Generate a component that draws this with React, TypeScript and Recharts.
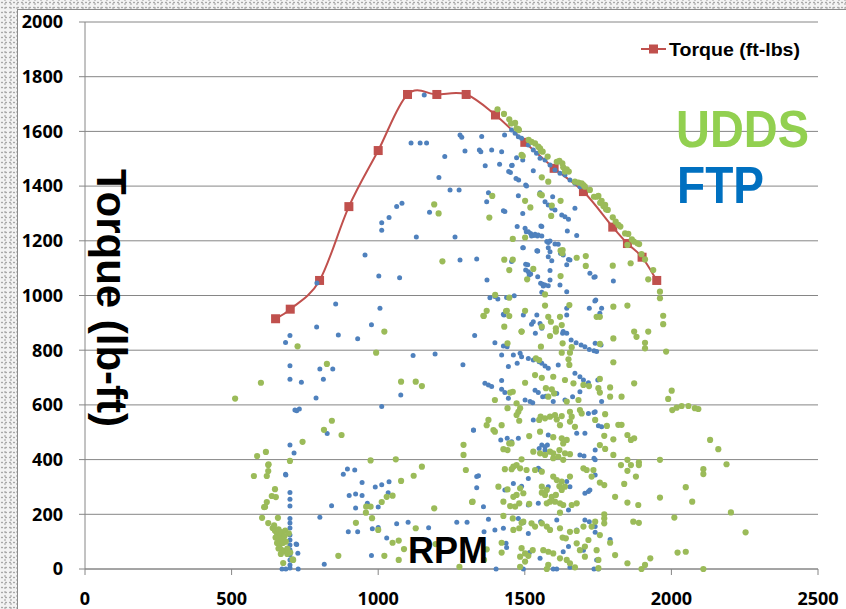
import React from "react";
import { ComposedChart, Line, Scatter, XAxis, YAxis, CartesianGrid } from "recharts";

// torque curve (red line with squares)
const torqueRpm = [650, 700, 800, 900, 1000, 1100, 1200, 1300, 1400, 1500, 1600, 1700, 1800, 1850, 1900, 1950];
const torqueFtLbs = [915, 950, 1055, 1325, 1530, 1735, 1735, 1735, 1660, 1560, 1465, 1380, 1250, 1190, 1140, 1055];

const xTicks = [0, 500, 1000, 1500, 2000, 2500];
const yTicks = [0, 200, 400, 600, 800, 1000, 1200, 1400, 1600, 1800, 2000];

// FTP cycle operating points [rpm, torque]
const ftpPoints: [number, number][] = [
  [716,581],[699,453],[713,424],[685,344],[699,280],[699,255],[699,230],[699,185],[699,168],[699,150],[699,124],[699,106],[699,88],[699,70],[699,51],[699,33],[699,15],[699,4],[720,91],[726,58],[672,0],[685,0],[727,0],[722,90],[816,17],
  [855,969],[1006,953],[790,885],[699,854],[684,828],[864,856],[930,842],[977,893],[1329,854],[1119,781],[1194,786],[1289,747],[699,743],[801,731],[845,731],[699,694],[738,683],[813,694],[788,625],[1077,636],[1012,594],[722,579],[731,585],[1325,507],[826,495],[684,346],[881,346],[895,366],[920,362],[945,316],[990,300],[1012,308],[1037,319],[901,269],[923,274],[945,269],[963,240],[1034,279],[1000,227],[923,223],[841,231],[801,189],[898,136],[930,136],[980,147],[1000,152],[1029,113],[1063,165],[1102,171],[1172,151],[1268,171],[1303,171],[977,49],[1336,338],[1336,297],
  [1157,1733],[1112,1558],[1143,1558],[1165,1558],[1227,1508],[1207,1431],[1245,1386],[1276,1386],[1081,1337],[1063,1325],[1037,1285],[1012,1266],[1012,1239],[1175,1304],[1130,1214],[1262,1214],[955,1148],[1279,1130],[1336,1133],[1002,1071],[1073,1065],[791,1046],
  [1345,1532],[1350,1526],[1365,1474],[1421,1526],[1414,1480],[1457,1476],[1431,1587],[1445,1453],[1451,1450],[1472,1504],[1493,1495],[1470,1428],[1479,1422],[1503,1404],[1478,1365],[1370,1343],[1427,1310],[1493,1300],[1474,1252],[1505,1233],[1520,1227],[1531,1219],[1493,1175],[1503,1114],[1503,1093],[1520,1079],[1515,1075],[1543,1163],[1371,1057],[1381,992],[1408,987],[1464,999],[1429,929],
  [1455,1605],[1467,1593],[1478,1580],[1489,1575],[1512,1550],[1529,1532],[1540,1520],[1552,1502],[1569,1495],[1586,1477],[1603,1459],[1620,1447],[1637,1441],[1654,1422],[1671,1410],[1688,1398],[1296,1528],[1279,1587],[1285,1579],[1353,1581],[1387,1532],[1455,1475],[1529,1456],[1506,1400],[1552,1376],[1569,1343],[1580,1331],[1592,1319],[1603,1313],[1595,1361],[1626,1294],[1637,1288],[1649,1279],[1671,1319],[1432,1307],[1376,1376],[1501,1246],[1523,1218],[1543,1218],[1558,1218],[1558,1252],[1580,1194],[1603,1188],[1614,1187],[1645,1236],[1677,1219],[1544,1163],[1580,1142],[1586,1160],[1622,1154],[1631,1148],[1649,1132],[1643,1112],[1455,1124],[1510,1112],[1586,1091],[1586,1057],[1620,1038],[1722,1081],[1736,1067],[1802,1053],[1643,1014],[1554,1045],[1563,1035],[1398,996],[1558,1012],[1742,984],
  [1512,1233],[1535,1224],[1546,1221],[1555,1254],[1575,1197],[1586,1199],[1495,1175],[1541,1164],[1580,1175],[1592,1127],[1654,1130],[1512,1087],[1544,1069],[1561,1041],[1569,1038],[1580,1036],[1438,993],[1739,980],[1720,953],[1427,931],[1495,929],[1523,895],[1529,904],[1541,929],[1552,898],[1558,880],[1631,868],[1643,953],[1643,929],
  [1536,862],[1629,862],[1643,862],[1398,827],[1427,815],[1440,813],[1421,782],[1461,782],[1484,789],[1489,776],[1474,752],[1444,740],[1512,770],[1529,764],[1549,758],[1558,752],[1569,742],[1580,734],[1614,746],[1658,837],[1675,827],[1692,819],[1705,813],[1720,803],[1736,798],[1671,716],[1688,703],[1700,691],[1717,681],[1749,691],[1364,679],[1376,673],[1387,667],[1421,689],[1421,657],[1432,645],[1535,654],[1546,645],[1561,630],[1572,632],[1444,624],[1501,618],[1518,612],[1527,608],[1597,612],[1637,618],[1609,642],[1663,630],[1688,648],[1717,569],[1736,572],[1325,508],[1529,545],[1418,472],[1440,478],[1455,465],[1478,478],[1558,453],[1569,447],[1577,453],[1549,441],[1569,435],[1580,490],[1677,496],[1705,496],[1688,417],[1702,413],[1736,405],[1342,341],[1461,313],[1489,303],[1512,331],[1546,368],[1552,362],[1580,301],[1643,320],[1654,301],[1705,277],[1717,283],[1722,289],[1359,228],[1432,289],[1512,234],[1546,240],[1649,216],[1376,182],[1478,185],[1495,169],[1554,173],[1609,179],[1705,179],[1720,173],[1361,136],[1398,143],[1427,149],[1512,130],[1677,143],[1436,94],[1438,79],[1516,60],[1631,63],[1649,82],[1700,69],[1402,0],[1495,0],[1609,0],[1597,0],[1654,6],[1736,0],[1751,0],[1552,39],[1745,33],
  [1740,1069],[1762,953],[1756,935],[1745,922],[1740,825],[1760,819],[1745,795],[1762,612],[1740,575],[1740,545],[1751,524],[1762,520],[1740,435],[1740,399],[1740,344],[1740,155],[1740,134],[1791,108],
];

// UDDS cycle operating points [rpm, torque]
const uddsPoints: [number, number][] = [
  [512,623],[587,413],[617,428],[576,340],[625,380],[625,358],[620,340],[648,292],[637,267],[651,263],[620,245],[614,227],[604,187],[658,187],[625,168],[676,22],[710,33],[699,395],
  [640,150],[648,140],[655,130],[660,145],[665,120],[670,135],[650,115],[660,105],[672,110],[680,120],[655,95],[665,90],[675,95],[685,100],[660,75],[670,70],[680,65],[690,75],[668,55],[690,55],[700,60],[645,160],[683,140],[695,130],
  [1021,868],[725,814],[993,791],[600,681],[825,750],[1078,685],[1128,685],[1149,669],[842,542],[815,509],[875,490],[742,465],[626,383],[974,397],[1060,401],[1149,374],[1121,341],[1078,322],[1291,454],[1291,417],[1299,362],[1320,245],[611,226],[708,35],[864,48],[924,169],[959,228],[974,228],[958,206],[979,186],[1000,143],[1012,245],[1029,264],[1049,268],[1191,222],[1128,149],[1049,96],[1070,104],[1088,73],[1021,48],[1070,33],[1196,91],[1277,8],
  [1407,1681],[1429,1664],[1447,1644],[1467,1631],[1478,1608],[1489,1514],[1389,1364],[1191,1333],[1206,1300],[1379,1285],[1501,1346],[1519,1322],[1459,1207],[1501,1212],[1219,1125],[1430,1131],[1459,1131],[1447,1093],[1529,1097],[1508,1059],[1399,1002],[1447,992],[1370,944],[1360,925],[1439,944],[1447,925],[1501,944],
  [1453,1629],[1472,1611],[1480,1605],[1513,1569],[1523,1562],[1535,1556],[1546,1544],[1552,1538],[1555,1528],[1561,1526],[1578,1508],[1609,1489],[1618,1492],[1628,1483],[1631,1469],[1643,1461],[1650,1453],[1637,1453],[1558,1432],[1580,1416],[1671,1416],[1683,1413],[1694,1410],[1700,1404],[1705,1398],[1722,1386],[1736,1361],[1751,1364],[1757,1339],[1768,1327],[1777,1315],[1800,1286],[1810,1270],[1826,1252],[1842,1227],[1853,1225],[1865,1205],[1872,1197],[1884,1191],[1890,1188],[1910,1132],[1921,1059],[1961,1014],[1961,990],[1861,1118],[1800,1109],[1708,1144],[1708,1108],[1677,1138],[1622,1164],[1628,1154],[1590,1291],[1558,1367],[1493,1510],
  [1552,1370],[1592,1329],[1622,1346],[1629,1166],[1622,1071],[1569,1004],[1569,963],[1652,965],[1359,926],[1436,943],[1430,886],[1489,868],[1558,886],[1580,922],[1589,904],[1606,880],[1620,922],[1626,892],[1745,922],
  [1745,1361],[1762,1346],[1774,1331],[1783,1313],[1819,1258],[1850,1185],[1898,1151],[1938,1093],[1972,926],[1972,895],[1802,959],[1850,963],[1756,922],[1873,868],[1921,868],
  [1881,849],[1910,827],[1910,807],[1802,843],[1756,823],[1982,795],[1802,756],[1756,695],[1873,679],[1791,664],[1756,645],[1791,630],[1830,630],[2001,652],[1989,622],[2003,581],[2018,590],[2035,596],[2058,596],[2080,588],[2092,585],[1774,566],[1740,545],[1780,523],[1819,527],[1830,527],[1771,487],[1802,474],[1850,490],[1862,472],[1873,478],[1756,453],[1774,439],[1802,417],[2132,472],[2160,438],[1850,399],[1828,380],[1862,380],[1850,359],[1889,390],[1889,380],[1961,399],[1879,338],[1756,316],[1771,307],[1839,311],[2109,365],[2109,347],[2049,299],[1808,264],[1850,243],[1887,234],[1961,261],[2071,246],[1771,200],[1771,185],[1771,167],[1740,173],[1870,173],[1889,169],[2010,188],[1756,124],[1791,96],[1808,51],[2021,60],[2049,63],[1850,21],[1898,0],[1910,15],[1928,39],[1751,3],[2109,0],[2188,383],[2203,207],[2253,134],
  [1489,868],[1586,852],[1606,868],[1441,825],[1555,813],[1629,825],[1660,811],[1626,791],[1654,791],[1538,770],[1549,764],[1649,767],[1652,746],[1535,709],[1558,699],[1597,703],[1637,691],[1501,681],[1459,648],[1450,645],[1398,618],[1572,661],[1592,657],[1600,642],[1580,630],[1643,612],[1683,618],[1719,669],[1700,673],[1666,679],[1751,661],[1654,575],[1660,557],[1654,539],[1671,520],[1688,581],[1694,569],[1472,606],[1484,588],[1478,575],[1472,563],[1481,542],[1441,588],[1554,557],[1549,545],[1569,551],[1586,557],[1603,563],[1609,547],[1626,559],[1620,526],[1376,545],[1370,526],[1393,508],[1398,502],[1421,526],[1515,486],[1552,502],[1597,482],[1626,478],[1643,472],[1631,459],[1447,459],[1455,459],[1427,438],[1441,435],[1529,429],[1552,423],[1569,417],[1586,429],[1597,423],[1618,435],[1637,423],[1654,420],[1597,405],[1614,411],[1631,399],[1489,401],[1461,374],[1472,380],[1484,368],[1455,365],[1432,365],[1506,362],[1535,362],[1558,356],[1597,338],[1609,325],[1626,320],[1654,338],[1700,368],[1711,362],[1734,362],[1728,338],[1410,301],[1441,291],[1484,295],[1495,277],[1472,271],[1461,264],[1558,301],[1569,271],[1558,279],[1575,289],[1618,303],[1626,289],[1637,301],[1606,271],[1592,264],[1322,246],[1427,246],[1450,230],[1467,228],[1481,240],[1515,238],[1575,240],[1586,246],[1603,246],[1620,240],[1631,234],[1660,234],[1677,240],[1620,206],[1427,194],[1459,185],[1489,169],[1495,173],[1523,167],[1535,155],[1558,167],[1575,155],[1586,143],[1620,149],[1654,136],[1677,139],[1700,155],[1728,155],[1461,143],[1481,149],[1629,115],[1640,112],[1717,106],[1370,72],[1421,96],[1421,60],[1489,76],[1501,57],[1512,48],[1527,69],[1484,45],[1501,27],[1484,8],[1563,69],[1580,63],[1597,57],[1620,39],[1643,33],[1654,21],[1677,94],[1688,69],[1705,82],[1705,45],[1575,0],[1580,15],[1671,6],[1745,69],[1751,33],[1361,33],
];

const torqueData = torqueRpm.map((rpm, i) => ({ rpm, torque: torqueFtLbs[i] }));
const ftpData = ftpPoints.map(([rpm, torque]) => ({ rpm, torque }));
const uddsData = uddsPoints.map(([rpm, torque]) => ({ rpm, torque }));

// Excel-style smoothed line (cardinal / catmull-rom bezier)
function excelSmooth(context: any) {
  let pts: number[][] = [];
  return {
    areaStart() {},
    areaEnd() {},
    lineStart() {
      pts = [];
    },
    point(x: number, y: number) {
      pts.push([+x, +y]);
    },
    lineEnd() {
      if (!pts.length) return;
      context.moveTo(pts[0][0], pts[0][1]);
      for (let i = 0; i < pts.length - 1; i++) {
        const p0 = pts[i - 1] || pts[i];
        const p1 = pts[i];
        const p2 = pts[i + 1];
        const p3 = pts[i + 2] || p2;
        const k = 1 / 6;
        context.bezierCurveTo(
          p1[0] + (p2[0] - p0[0]) * k,
          p1[1] + (p2[1] - p0[1]) * k,
          p2[0] - (p3[0] - p1[0]) * k,
          p2[1] - (p3[1] - p1[1]) * k,
          p2[0],
          p2[1]
        );
      }
    },
  };
}

const RED = "#C0504D";
const tickStyle = { fill: "#000", fontSize: 18, fontWeight: 700, fontFamily: "Open Sans" };
const labelFont = "Liberation Sans, Arial, sans-serif";

export default function App() {
  return (
    <div
      style={{
        position: "absolute",
        left: 0,
        top: 0,
        width: 846,
        height: 609,
        overflow: "hidden",
        backgroundColor: "#f3f3f3",
        backgroundImage:
          "radial-gradient(circle, #a8a8a8 0.7px, transparent 1.2px), radial-gradient(circle, #c6c6c6 0.7px, transparent 1.2px)",
        backgroundSize: "4px 5px, 6px 4px",
        backgroundPosition: "0 0, 2px 2px",
      }}
    >
      <div
        style={{
          position: "absolute",
          left: 17,
          top: 9,
          width: 840,
          height: 610,
          background: "#fff",
          borderLeft: "1px solid #8c8c8c",
          borderTop: "1px solid #8c8c8c",
        }}
      />
      <div style={{ position: "absolute", left: 0, top: 0 }}>
        <ComposedChart width={846} height={609} margin={{ top: 22, right: 28, bottom: 0, left: 0 }}>
          <CartesianGrid vertical={false} stroke="#868686" strokeWidth={1} />
          <XAxis
            type="number"
            dataKey="rpm"
            domain={[0, 2500]}
            ticks={xTicks}
            interval={0}
            height={40}
            tickSize={6}
            tickMargin={17}
            stroke="#868686"
            tick={tickStyle}
          />
          <YAxis
            type="number"
            dataKey="torque"
            domain={[0, 2000]}
            ticks={yTicks}
            interval={0}
            width={85}
            tickSize={6}
            tickMargin={16}
            stroke="#868686"
            tick={tickStyle}
          />
          <Line
            data={torqueData}
            dataKey="torque"
            type={excelSmooth as any}
            stroke={RED}
            strokeWidth={2}
            isAnimationActive={false}
            dot={(p: any) => (
              <rect key={`sq-${p.index}`} x={p.cx - 4.5} y={p.cy - 4.5} width={9} height={9} fill={RED} />
            )}
            activeDot={false}
          />
          <Scatter
            data={ftpData}
            dataKey="torque"
            isAnimationActive={false}
            shape={(p: any) => <circle cx={p.cx} cy={p.cy} r={2.5} fill="#4F81BD" />}
          />
          <Scatter
            data={uddsData}
            dataKey="torque"
            isAnimationActive={false}
            shape={(p: any) => <circle cx={p.cx} cy={p.cy} r={3.1} fill="#9BBB59" />}
          />
        </ComposedChart>
      </div>
      <svg
        width={846}
        height={609}
        style={{ position: "absolute", left: 0, top: 0, pointerEvents: "none" }}
      >
        <line x1={641} y1={49} x2={666} y2={49} stroke={RED} strokeWidth={2} />
        <rect x={649} y={44.5} width={9} height={9} fill={RED} />
        <text
          x={669}
          y={56}
          fontFamily={labelFont}
          fontWeight={700}
          fontSize={19}
          fill="#000"
          textLength={131}
          lengthAdjust="spacingAndGlyphs"
        >
          Torque (ft-lbs)
        </text>
        <text
          x={676}
          y={147}
          fontFamily={labelFont}
          fontWeight={700}
          fontSize={51}
          fill="#92D050"
          textLength={133}
          lengthAdjust="spacingAndGlyphs"
        >
          UDDS
        </text>
        <text
          x={677}
          y={203}
          fontFamily={labelFont}
          fontWeight={700}
          fontSize={51}
          fill="#0070C0"
          textLength={87}
          lengthAdjust="spacingAndGlyphs"
        >
          FTP
        </text>
        <text
          x={448}
          y={563}
          textAnchor="middle"
          fontFamily={labelFont}
          fontWeight={700}
          fontSize={36}
          fill="#000"
        >
          RPM
        </text>
        <text
          x={97}
          y={298}
          transform="rotate(90 97 298)"
          textAnchor="middle"
          fontFamily={labelFont}
          fontWeight={700}
          fontSize={42}
          fill="#000"
        >
          Torque (lb-ft)
        </text>
      </svg>
    </div>
  );
}
